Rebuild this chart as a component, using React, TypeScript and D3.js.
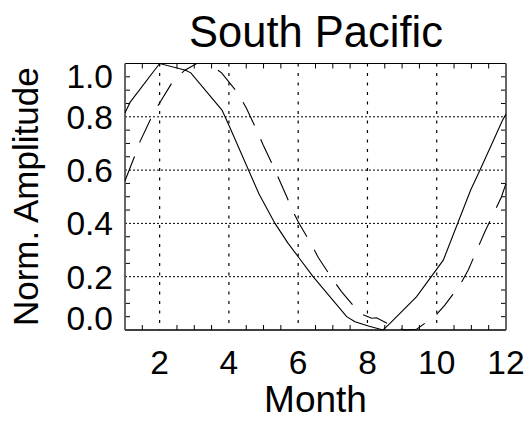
import React from "react";
import * as d3 from "d3";

const title = "South Pacific";
const xTitle = "Month";
const yTitle = "Norm. Amplitude";

const solidMonths = [1.0, 1.15, 2.0, 2.75, 2.9, 3.8, 4.0, 4.87, 5.33, 5.7, 6.0, 6.43, 7.4, 7.64, 8.05, 8.45, 8.65, 9.42, 10.19, 10.98, 11.25, 11.9, 12.0];
const solidAmp = [0.815, 0.855, 1.0, 0.975, 0.965, 0.825, 0.768, 0.51, 0.4, 0.327, 0.275, 0.2, 0.05, 0.031, 0.014, 0.0, 0.025, 0.125, 0.262, 0.525, 0.6, 0.787, 0.81];

const dashedMonths = [1.0, 1.29, 1.43, 1.77, 1.99, 2.39, 2.73, 3.07, 3.4, 3.79, 4.27, 4.51, 4.8, 4.99, 5.33, 5.67, 5.81, 6.0, 6.39, 6.58, 7.01, 7.25, 7.78, 8.12, 8.26, 8.84, 9.1, 9.42, 9.95, 10.24, 10.67, 10.91, 11.39, 11.87, 12.0];
const dashedAmp = [0.56, 0.656, 0.706, 0.8, 0.85, 0.935, 0.975, 1.0, 1.0, 0.965, 0.887, 0.831, 0.75, 0.694, 0.6, 0.5, 0.456, 0.406, 0.319, 0.272, 0.1875, 0.144, 0.0625, 0.044, 0.046, 0.006, 0.0, 0.003, 0.0525, 0.094, 0.169, 0.225, 0.369, 0.5, 0.55];

const xTickValues = [2, 4, 6, 8, 10, 12];
const yTickValues = [0.0, 0.2, 0.4, 0.6, 0.8, 1.0];
const xMinorStep = 0.5;
const yMinorStep = 0.05;

const W = 530;
const H = 423;
const left = 125;
const right = 506;
const top = 63.5;
const bottom = 330;

const FONT = "'Liberation Sans', Arial, Helvetica, sans-serif";

export default function App() {
  const x = d3.scaleLinear().domain([1, 12]).range([left, right]);
  const y = d3.scaleLinear().domain([0, 1]).range([bottom, top]);

  const line = d3
    .line<[number, number]>()
    .x((d) => x(d[0]))
    .y((d) => y(d[1]));

  const solidPts: [number, number][] = solidMonths.map((m, i) => [m, solidAmp[i]]);
  const dashedPts: [number, number][] = dashedMonths.map((m, i) => [m, dashedAmp[i]]);

  const xMinor = d3.range(1 + xMinorStep, 12, xMinorStep).filter((v) => !xTickValues.includes(v));
  const yMinor = d3
    .range(yMinorStep, 1, yMinorStep)
    .map((v) => Math.round(v * 100) / 100)
    .filter((v) => !yTickValues.some((t) => Math.abs(t - v) < 1e-6));

  const tickFs = 33.5;
  const tl = 5;
  const fmt = d3.format(".1f");
  const capH = tickFs * 0.71;

  return (
    <svg
      width={W}
      height={H}
      viewBox={`0 0 ${W} ${H}`}
      style={{ position: "absolute", left: 0, top: 0, background: "#fff" }}
    >
      <rect x={0} y={0} width={W} height={H} fill="#fff" />
      {/* grid */}
      {xTickValues
        .filter((v) => v > 1 && v < 12)
        .map((v) => (
          <line
            key={"gx" + v}
            x1={x(v)}
            x2={x(v)}
            y1={top}
            y2={bottom}
            stroke="#000"
            strokeWidth={1.2}
            strokeDasharray="3 6.5"
          />
        ))}
      {yTickValues
        .filter((v) => v > 0 && v < 1)
        .map((v) => (
          <line
            key={"gy" + v}
            x1={left}
            x2={right}
            y1={y(v)}
            y2={y(v)}
            stroke="#000"
            strokeWidth={1}
            strokeDasharray="2 2"
          />
        ))}
      {/* minor ticks */}
      {xMinor.map((v) => (
        <g key={"mx" + v}>
          <line x1={x(v)} x2={x(v)} y1={bottom} y2={bottom - tl} stroke="#000" strokeWidth={1} />
          <line x1={x(v)} x2={x(v)} y1={top} y2={top + tl} stroke="#000" strokeWidth={1} />
        </g>
      ))}
      {yMinor.map((v) => (
        <g key={"my" + v}>
          <line x1={left} x2={left + tl} y1={y(v)} y2={y(v)} stroke="#000" strokeWidth={1} />
          <line x1={right} x2={right - tl} y1={y(v)} y2={y(v)} stroke="#000" strokeWidth={1} />
        </g>
      ))}
      {/* frame */}
      <line x1={left} x2={right} y1={top} y2={top} stroke="#000" strokeWidth={1.2} />
      <line x1={left} x2={right} y1={bottom} y2={bottom} stroke="#000" strokeWidth={1.6} />
      <line x1={left} x2={left} y1={top} y2={bottom} stroke="#555" strokeWidth={1.8} />
      <line x1={right} x2={right} y1={top} y2={bottom} stroke="#555" strokeWidth={1.8} />
      {/* curves */}
      <path d={line(solidPts) || ""} fill="none" stroke="#000" strokeWidth={1.1} />
      <path d={line(dashedPts) || ""} fill="none" stroke="#000" strokeWidth={1.1} strokeDasharray="26 15" />
      {/* tick labels */}
      {yTickValues.map((v) => {
        const yc = Math.min(Math.max(y(v), top + capH / 2 + 0.5), bottom - capH / 2 - 0.5);
        return (
          <text
            key={"yl" + v}
            x={113}
            y={yc + capH / 2}
            textAnchor="end"
            fontFamily={FONT}
            fontSize={tickFs}
            fill="#000"
          >
            {fmt(v)}
          </text>
        );
      })}
      {xTickValues.map((v) => (
        <text
          key={"xl" + v}
          x={x(v)}
          y={373.5}
          textAnchor="middle"
          fontFamily={FONT}
          fontSize={tickFs}
          fill="#000"
        >
          {String(v)}
        </text>
      ))}
      {/* titles */}
      <text x={(left + right) / 2 + 0.5} y={46.5} textAnchor="middle" fontFamily={FONT} fontSize={43.5} fill="#000">
        {title}
      </text>
      <text x={(left + right) / 2} y={411.5} textAnchor="middle" fontFamily={FONT} fontSize={37} fill="#000">
        {xTitle}
      </text>
      <text
        transform={`translate(38,${(top + bottom) / 2}) rotate(-90)`}
        textAnchor="middle"
        fontFamily={FONT}
        fontSize={35}
        fill="#000"
      >
        {yTitle}
      </text>
    </svg>
  );
}
